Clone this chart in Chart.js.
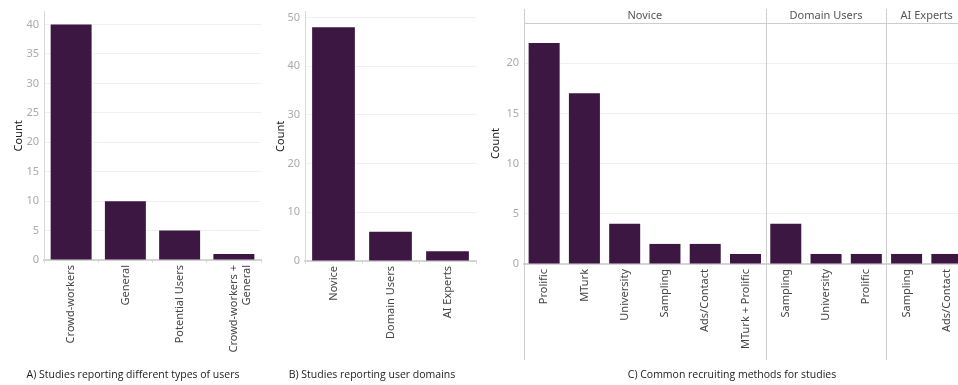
<!DOCTYPE html>
<html>
<head>
<meta charset="utf-8">
<script src="https://cdn.jsdelivr.net/npm/chart.js@4.4.1/dist/chart.umd.min.js"></script>
<style>
body{margin:0;width:958px;height:385px;overflow:hidden;background:#fff;position:relative;font-family:"Noto Sans",sans-serif;}
canvas{position:absolute;top:0;}
.cap{position:absolute;top:367px;font-size:10.5px;color:#1a1a1a;white-space:nowrap;transform:translateX(-50%);font-family:"Open Sans",sans-serif;}
</style>
</head>
<body>
<canvas id="chart_a" width="265" height="385" style="left:0px"></canvas>
<canvas id="chart_b" width="218" height="385" style="left:262px"></canvas>
<canvas id="chart_c" width="492" height="385" style="left:480px"></canvas>
<div class="cap" style="left:133px">A) Studies reporting different types of users</div>
<div class="cap" style="left:372px">B) Studies reporting user domains</div>
<div class="cap" style="left:732px">C) Common recruiting methods for studies</div>

<script>
// A) user types
const userTypes   = ["Crowd-workers", "General", "Potential Users", ["Crowd-workers +", "General"]];
const userCounts  = [40, 10, 5, 1];

// B) user domains
const domains      = ["Novice", "Domain Users", "AI Experts"];
const domainCounts = [48, 6, 2];

// C) recruiting methods, grouped by domain
const recruitGroups = ["Novice", "Domain Users", "AI Experts"];
const groupSizes    = [6, 3, 2];
const recruitLabels = ["Prolific", "MTurk", "University", "Sampling", "Ads/Contact", "MTurk + Prolific",
                       "Sampling", "University", "Prolific",
                       "Sampling", "Ads/Contact"];
const recruitCounts = [22, 17, 4, 2, 2, 1, 4, 1, 1, 1, 1];

const BAR   = "#3c1742";
const FONT  = "'Noto Sans', sans-serif";

function make_options(yMax, yStep, yWidth, xHeight, padTop, padRight, barPct){
    return {
        responsive: false,
        animation: false,
        layout: { padding: { top: padTop, right: padRight, left: 0, bottom: 0 } },
        plugins: { legend: { display: false }, tooltip: { enabled: false } },
        datasets: { bar: { categoryPercentage: 1, barPercentage: barPct } },
        scales: {
            x: {
                z: 1,
                afterFit: s => { s.height = xHeight; },
                grid: { drawOnChartArea: false, tickLength: 3, color: "#dcdcdc" },
                border: { color: "#d4d4d4", width: 2 },
                ticks: { minRotation: 90, maxRotation: 90, padding: 2, color: "#444",
                         font: { family: FONT, size: 11 }, autoSkip: false }
            },
            y: {
                min: 0, max: yMax,
                // only the round steps get a tick (the axis top is not a round number)
                afterBuildTicks: s => {
                    let t = [];
                    for (let v = 0; v <= yMax; v += yStep) t.push({ value: v });
                    s.ticks = t;
                },
                afterFit: s => { s.width = yWidth; },
                ticks: { stepSize: yStep, padding: 5, color: "#aaa", font: { family: FONT, size: 11 } },
                grid: { color: "#f0f0f0", drawTicks: false },
                border: { color: "#d8d8d8" },
                title: { display: true, text: "Count", color: "#222", padding: { top: 12, bottom: 0 },
                         font: { family: FONT, size: 11 } }
            }
        }
    };
}

function draw_simple(id, labels, values, opts){
    const ctx = document.getElementById(id).getContext("2d");
    return new Chart(ctx, {
        type: "bar",
        data: { labels: labels, datasets: [{ data: values, backgroundColor: BAR }] },
        options: opts
    });
}

draw_simple("chart_a", userTypes, userCounts, make_options(42.2, 5, 44, 125, 9, 4, 0.755));
draw_simple("chart_b", domains, domainCounts, make_options(51.2, 10, 43, 124, 9, 4, 0.75));

// group headers + dividers for panel C
const groupPlugin = {
    id: "groups",
    afterDraw(chart){
        const ctx = chart.ctx;
        const xs  = chart.scales.x;
        const area = chart.chartArea;
        const half = (xs.getPixelForTick(1) - xs.getPixelForTick(0)) / 2;
        ctx.save();
        ctx.strokeStyle = "#cdcdcd";
        ctx.lineWidth = 1;
        // header line
        ctx.beginPath();
        ctx.moveTo(area.left, area.top + 0.5);
        ctx.lineTo(chart.width, area.top + 0.5);
        ctx.stroke();
        // y axis line, full height, then the dividers between groups
        let lines = [area.left];
        let start = 0;
        ctx.fillStyle = "#555";
        ctx.font = "11px " + FONT;
        ctx.textAlign = "center";
        ctx.textBaseline = "middle";
        for (let g = 0; g < recruitGroups.length; g++){
            let x0 = xs.getPixelForTick(start) - half;
            let x1 = xs.getPixelForTick(start + groupSizes[g] - 1) + half;
            ctx.fillText(recruitGroups[g], (x0 + x1) / 2, 16);
            if (g < recruitGroups.length - 1) lines.push(x1);
            start += groupSizes[g];
        }
        for (let x of lines){
            ctx.beginPath();
            ctx.moveTo(Math.round(x) + 0.5, 9);
            ctx.lineTo(Math.round(x) + 0.5, 360);
            ctx.stroke();
        }
        ctx.restore();
    }
};

let optsC = make_options(24, 5, 44, 121, 23, 5, 0.77);
optsC.scales.x.grid.display = false;
optsC.scales.y.title.padding = { top: 9, bottom: 0 };
new Chart(document.getElementById("chart_c").getContext("2d"), {
    type: "bar",
    data: { labels: recruitLabels, datasets: [{ data: recruitCounts, backgroundColor: BAR }] },
    options: optsC,
    plugins: [groupPlugin]
});
</script>
</body>
</html>
